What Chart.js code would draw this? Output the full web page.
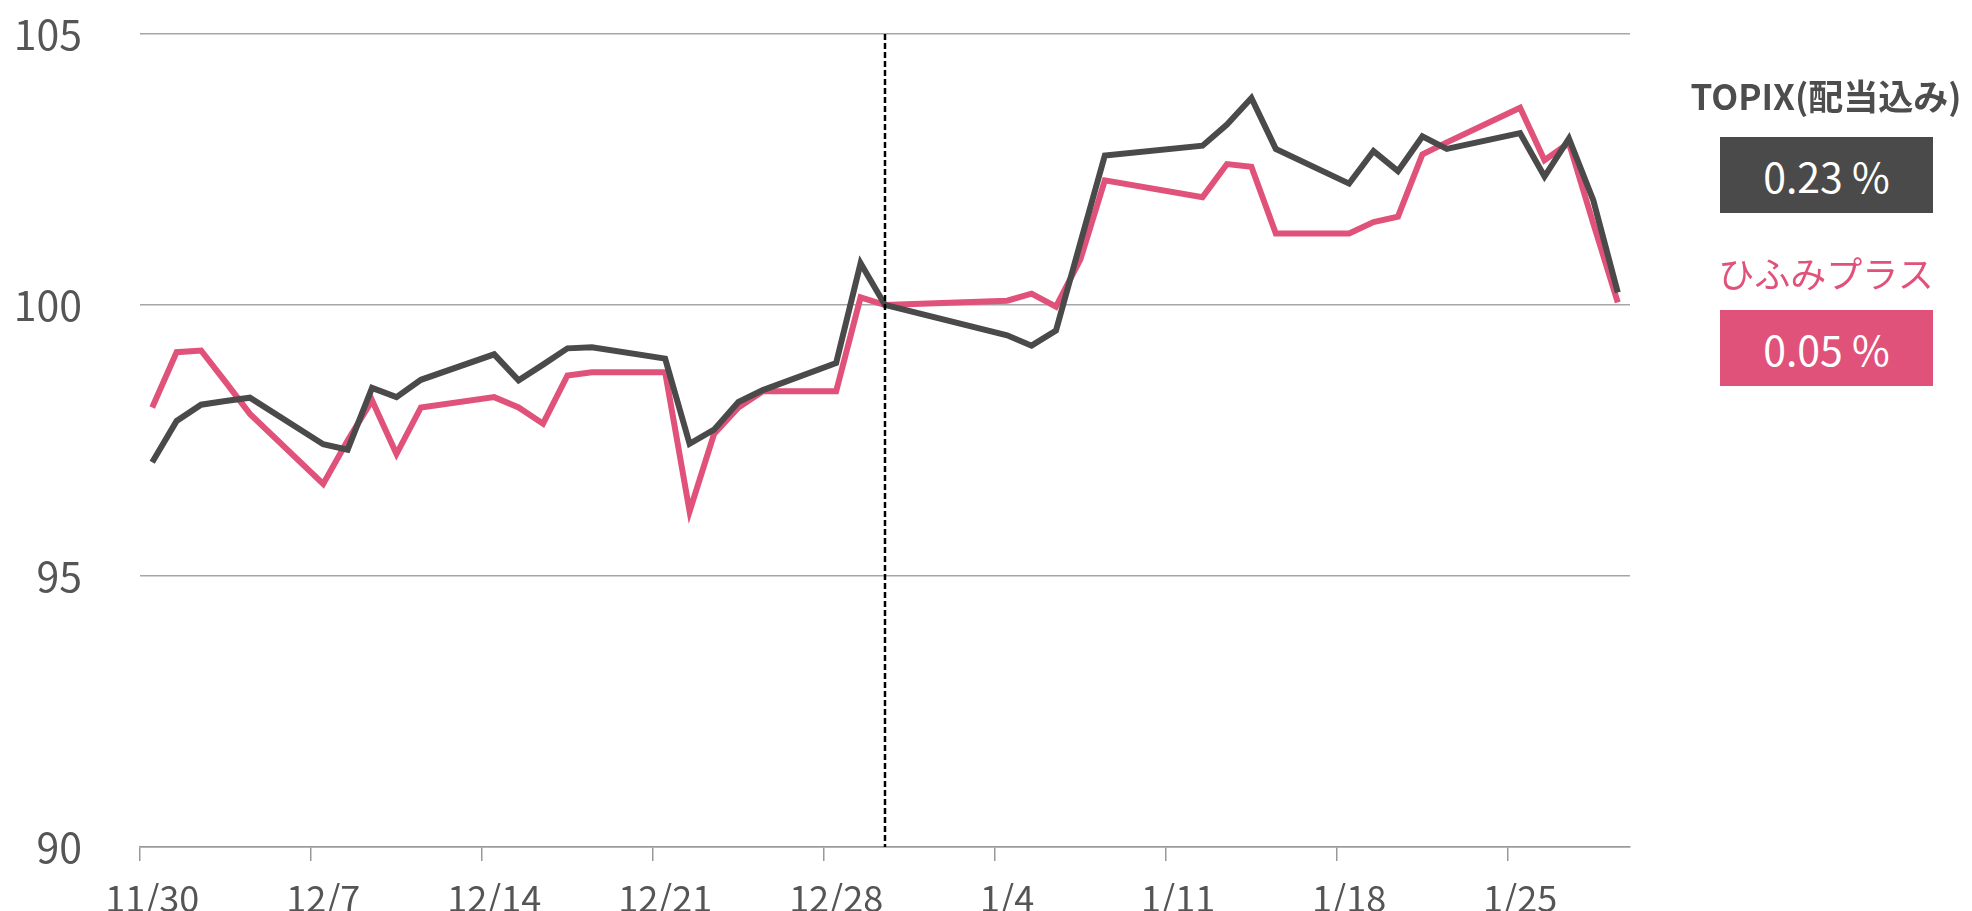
<!DOCTYPE html>
<html lang="ja">
<head>
<meta charset="utf-8">
<title>ひふみプラス vs TOPIX</title>
<script src="https://cdn.jsdelivr.net/npm/chart.js@4.4.1/dist/chart.umd.min.js"></script>
<style>
  html, body { margin: 0; padding: 0; background: #fff; }
  #wrap { position: relative; width: 1972px; height: 911px; }
  .lg { position: absolute; font-family: 'Noto Sans CJK JP', 'Noto Sans', sans-serif; text-align: center; }
  .lgTitle { left: 1680px; width: 292px; height: 44px; line-height: 44px; }
  .lgBox { left: 1720px; width: 213px; height: 76px; line-height: 76px; color: #fff; font-size: 41px; }
</style>
</head>
<body>
<div id="wrap">
  <canvas id="grafico"></canvas>
  <div class="lg lgTitle" id="titTopix" style="top:73px;font-size:35px;font-weight:700;color:#4d4d4d;"></div>
  <div class="lg lgBox" id="valTopix" style="top:137px;background:#4a4a4a;"></div>
  <div class="lg lgTitle" id="titHifumi" style="top:250px;font-size:36px;color:#e0527a;"></div>
  <div class="lg lgBox" id="valHifumi" style="top:310px;background:#e0527a;"></div>
</div>
<script>
// datos
const diasHabiles = ['11/30','12/1','12/2','12/3','12/4','12/7','12/8','12/9','12/10','12/11',
  '12/14','12/15','12/16','12/17','12/18','12/21','12/22','12/23','12/24','12/25',
  '12/28','12/29','12/30','1/4','1/5','1/6','1/7','1/8','1/12','1/13','1/14','1/15',
  '1/18','1/19','1/20','1/21','1/22','1/25','1/26','1/27','1/28','1/29'];
const topix = [97.10, 97.86, 98.16, 98.23, 98.29, 97.43, 97.33, 98.47, 98.30, 98.62,
  99.09, 98.61, 98.90, 99.20, 99.22, 99.01, 97.44, 97.70, 98.21, 98.43,
  98.93, 100.77, 100.00, 99.44, 99.25, 99.53, 101.15, 102.76, 102.94, 103.33, 103.82, 102.88,
  102.24, 102.84, 102.47, 103.11, 102.88, 103.17, 102.37, 103.07, 101.93, 100.23];
const hifumi = [98.11, 99.13, 99.16, 98.58, 97.99, 96.70, 97.50, 98.24, 97.25, 98.11,
  98.30, 98.11, 97.81, 98.70, 98.76, 98.76, 96.19, 97.62, 98.11, 98.41,
  98.41, 100.14, 100.00, 100.08, 100.21, 99.97, 100.84, 102.30, 101.99, 102.60, 102.55, 101.32,
  101.32, 101.53, 101.63, 102.78, 103.00, 103.64, 102.67, 102.99, 101.50, 100.05];
const etiquetasX = ['11/30','12/7','12/14','12/21','12/28','1/4','1/11','1/18','1/25'];
const ticksY = [90, 95, 100, 105];
const diaBase = '12/30';
const nombresSerie = ['TOPIX(配当込み)', 'ひふみプラス'];
const rendimientos = ['0.23 %', '0.05 %'];

const colorTopix = '#4a4a4a';
const colorHifumi = '#e0527a';
const fuente = "'Noto Sans CJK JP', 'Noto Sans', sans-serif";

// eje de calendario: todos los dias del 11/30 al 1/29
const dias = [];
for(let i = 0; i < 61; i++){
  const d = new Date(2020, 10, 30 + i);
  dias.push((d.getMonth() + 1) + '/' + d.getDate());
}

// leyenda
document.getElementById('titTopix').textContent = nombresSerie[0];
document.getElementById('valTopix').textContent = rendimientos[0];
document.getElementById('titHifumi').textContent = nombresSerie[1];
document.getElementById('valHifumi').textContent = rendimientos[1];

// linea punteada del dia base
const lineaBase = {
  id: 'lineaBase',
  afterDatasetsDraw(chart){
    const { ctx, chartArea, scales } = chart;
    const px = scales.x.getPixelForValue(dias.indexOf(diaBase));
    ctx.save();
    ctx.setLineDash([6, 3]);
    ctx.lineWidth = 2.5;
    ctx.strokeStyle = '#000';
    ctx.beginPath();
    ctx.moveTo(px, chartArea.top);
    ctx.lineTo(px, chartArea.bottom);
    ctx.stroke();
    ctx.restore();
  }
};

const canvas = document.getElementById('grafico');
new Chart(canvas.getContext('2d'), {
  type: 'line',
  data: {
    labels: dias,
    datasets: [
      {
        label: nombresSerie[0],
        data: diasHabiles.map((d, i) => ({ x: d, y: topix[i] })),
        borderColor: colorTopix,
        borderWidth: 6,
        pointRadius: 0,
        tension: 0,
        borderJoinStyle: 'miter'
      },
      {
        label: nombresSerie[1],
        data: diasHabiles.map((d, i) => ({ x: d, y: hifumi[i] })),
        borderColor: colorHifumi,
        borderWidth: 6,
        pointRadius: 0,
        tension: 0,
        borderJoinStyle: 'miter'
      }
    ]
  },
  options: {
    responsive: true,
    maintainAspectRatio: false,
    animation: false,
    layout: { padding: { left: 17, right: 342, top: 34, bottom: 0 } },
    plugins: {
      legend: { display: false },
      tooltip: { enabled: false }
    },
    scales: {
      x: {
        type: 'category',
        offset: true,
        afterFit: s => { s.height = 64; },
        grid: {
          offset: true,
          drawOnChartArea: false,
          tickLength: 14,
          lineWidth: 1.5,
          color: c => (c.index % 7 === 0 ? '#999' : 'rgba(0,0,0,0)')
        },
        border: { display: true, color: '#999', width: 1.5 },
        ticks: {
          autoSkip: false,
          maxRotation: 0,
          minRotation: 0,
          padding: 16,
          color: '#555',
          font: { family: fuente, size: 36 },
          callback: (v, i) => (etiquetasX.includes(dias[i]) ? dias[i] : '')
        }
      },
      y: {
        min: ticksY[0],
        max: ticksY[ticksY.length - 1],
        afterBuildTicks: s => { s.ticks = ticksY.map(v => ({ value: v })); },
        afterFit: s => { s.width = 123; s.paddingTop = 0; s.paddingBottom = 0; },
        grid: { color: '#a6a6a6', lineWidth: 1.5, drawTicks: false },
        border: { display: false },
        ticks: {
          padding: 58,
          color: '#555',
          font: { family: fuente, size: 41 }
        }
      }
    }
  },
  plugins: [lineaBase]
});
</script>
</body>
</html>
